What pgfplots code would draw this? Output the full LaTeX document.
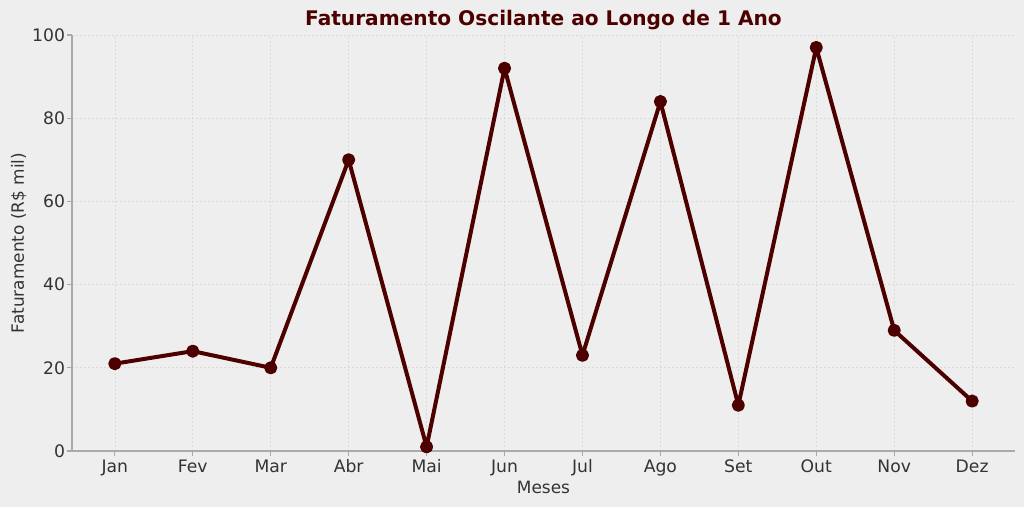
\documentclass[border=0pt]{standalone}
\usepackage{pgfplots}
\pgfplotsset{compat=1.18}
\usepackage{fontspec}
\setmainfont{DejaVu Sans}
\definecolor{bg}{HTML}{EEEEEE}
\definecolor{linec}{HTML}{4D0000}
\definecolor{txt}{HTML}{333333}
\definecolor{spine}{HTML}{AAAAAA}
\definecolor{gridc}{HTML}{DADADA}
\begin{document}
\begin{tikzpicture}[x=0.75pt,y=0.75pt]
\useasboundingbox (0,0) rectangle (1024,507);
\fill[bg] (0,0) rectangle (1024,507);
\begin{axis}[
  at={(54pt,42pt)}, anchor=south west,
  scale only axis, width=707.25pt, height=312pt,
  xmin=-0.55, xmax=11.55, ymin=0, ymax=100,
  xtick={0,...,11},
  xticklabels={Jan,Fev,Mar,Abr,Mai,Jun,Jul,Ago,Set,Out,Nov,Dez},
  ytick={0,20,40,60,80,100},
  axis x line*=bottom, axis y line*=left,
  axis line style={draw=spine, line width=1pt, -},
  tick style={draw=spine, line width=0.8pt},
  tick align=outside, major tick length=3.75pt,
  grid=major, grid style={draw=gridc, dash pattern=on 1.5pt off 1.5pt, line width=0.5pt},
  /pgf/number format/assume math mode=true,
  ticklabel style={font=\fontsize{12.9}{15}\selectfont, text=txt},
  xticklabel style={anchor=base, yshift=-12.5pt},
  yticklabel style={anchor=east, xshift=2pt},
  label style={font=\fontsize{12.7}{15}\selectfont, text=txt},
  xlabel={Meses},
  xlabel style={at={(axis description cs:0.5,0)}, anchor=base, yshift=-31.5pt},
  ylabel={Faturamento (R\$ mil)},
  ylabel style={at={(axis description cs:0,0.5)}, anchor=center, yshift=40pt},
  clip=false,
]
\addplot[color=linec, line width=3pt, line join=round, line cap=round, mark=*, mark size=3.4pt, mark options={solid, fill=linec, draw=none}]
  coordinates {(0,21) (1,24) (2,20) (3,70) (4,1) (5,92) (6,23) (7,84) (8,11) (9,97) (10,29) (11,12)};
\node[anchor=base, text=linec, font=\fontsize{15.1}{17}\bfseries] at (axis description cs:0.5,1) [yshift=6.75pt] {Faturamento Oscilante ao Longo de 1 Ano};
\end{axis}
\end{tikzpicture}
\end{document}
